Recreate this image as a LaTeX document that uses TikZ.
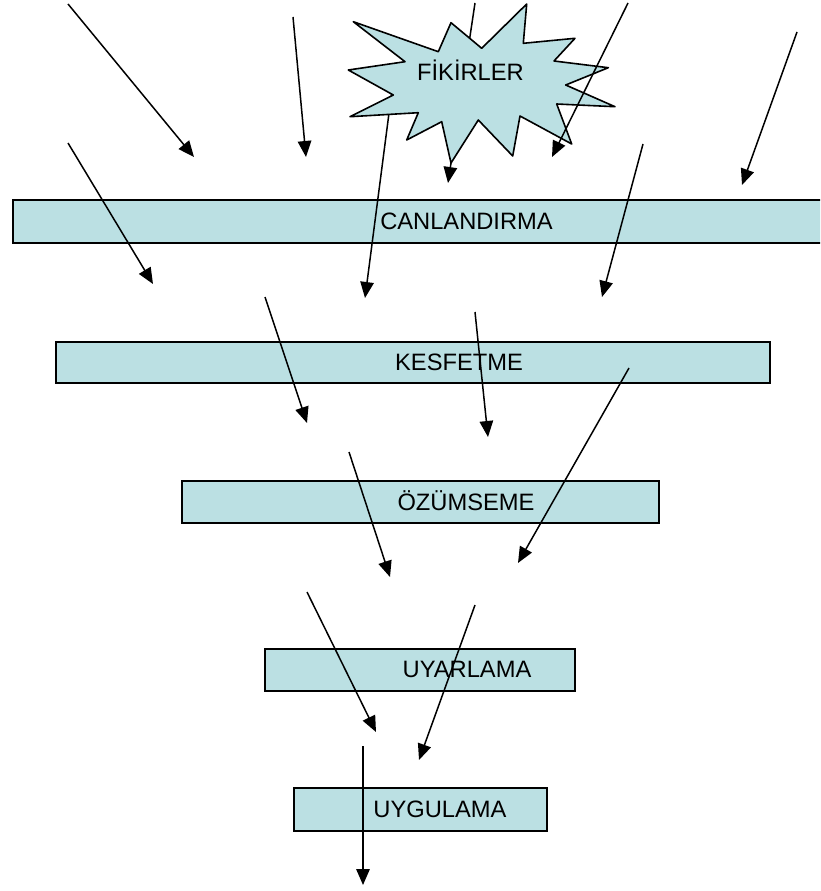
\documentclass[tikz,border=0pt]{standalone}
\usepackage{fontspec}
\setmainfont{Liberation Sans}
\usetikzlibrary{arrows.meta}
\definecolor{barfill}{RGB}{187,224,227}
\begin{document}
\begin{tikzpicture}[x=1pt,y=-1pt,
  bar/.style={draw=black,line width=1.8pt,fill=barfill,inner sep=0pt,anchor=north west},
  lbl/.style={font=\fontsize{23.7}{28}\selectfont,inner sep=0pt,anchor=center},
  flow/.style={line width=1.5pt,-{Triangle[length=16pt,width=13.5pt]}}]
\useasboundingbox (0,0) rectangle (820,891);
\clip (0,0) rectangle (820,891);

% stage bars
\node[bar,minimum width=830pt,minimum height=43pt] (canl) at (12,199) {};
\node[bar,minimum width=714pt,minimum height=41pt] (kesf) at (55,341) {};
\node[bar,minimum width=477pt,minimum height=42pt] (ozum) at (181,480) {};
\node[bar,minimum width=310pt,minimum height=42pt] (uyar) at (264,648) {};
\node[bar,minimum width=253pt,minimum height=43pt] (uygu) at (293,787) {};

% bar labels
\node[lbl] (tcanl) at (466.5,221) {CANLANDIRMA};
\node[lbl] (tkesf) at (459,362) {KESFETME};
\node[lbl] (tozum) at (466,501) {ÖZÜMSEME};
\node[lbl] (tuyar) at (467,669.5) {UYARLAMA};
\node[lbl] (tuygu) at (440,809) {UYGULAMA};

% arrow end points
\coordinate (s1) at (68,4);     \coordinate (e1) at (194,157);
\coordinate (s2) at (293,17);   \coordinate (e2) at (306,157);
\coordinate (s3) at (475,3);    \coordinate (e3) at (448,183);
\coordinate (s4) at (628,3);    \coordinate (e4) at (552,157);
\coordinate (s5) at (797,32);   \coordinate (e5) at (742,185);
\coordinate (s6) at (68,143);   \coordinate (e6) at (153,284);
\coordinate (s7) at (392,90);   \coordinate (e7) at (365,298);
\coordinate (s8) at (643,144);  \coordinate (e8) at (602,297);
\coordinate (s9) at (265,297);  \coordinate (e9) at (307,423);
\coordinate (s10) at (475,312); \coordinate (e10) at (488,437);
\coordinate (s11) at (629,368); \coordinate (e11) at (518,563);
\coordinate (s12) at (349,452); \coordinate (e12) at (390,577);
\coordinate (s13) at (307,592); \coordinate (e13) at (376,732);
\coordinate (s14) at (475,605); \coordinate (e14) at (419,760);
\coordinate (s15) at (363,746); \coordinate (e15) at (363,885);

% arrows lying under the burst
\draw[flow] (s3) -- (e3);
\draw[flow] (s7) -- (e7);

% the burst of ideas
\filldraw[fill=barfill,draw=black,line width=1.6pt,line join=round]
  (353.3,21.7) -- (438.3,51.7) -- (451,22.7) -- (481.7,48.3) -- (526.7,4)
  -- (523.3,43.3) -- (575,38.3) -- (554,61) -- (608.3,67.7) -- (565.7,85)
  -- (615,106.7) -- (556.7,104) -- (571.7,144) -- (520,116) -- (512.7,156)
  -- (478.3,120) -- (451,163) -- (441.7,121.7) -- (406.7,140) -- (418.3,112.7)
  -- (350,116.7) -- (393.3,95) -- (348.3,70) -- (405,61.7) -- cycle;
\node[lbl] (fikir) at (470.5,70.5) {FİKİRLER};

% remaining arrows
\draw[flow] (s1) -- (e1);
\draw[flow] (s2) -- (e2);
\draw[flow] (s4) -- (e4);
\draw[flow] (s5) -- (e5);
\draw[flow] (s6) -- (e6);
\draw[flow] (s8) -- (e8);
\draw[flow] (s9) -- (e9);
\draw[flow] (s10) -- (e10);
\draw[flow] (s11) -- (e11);
\draw[flow] (s12) -- (e12);
\draw[flow] (s13) -- (e13);
\draw[flow] (s14) -- (e14);
\draw[flow] (s15) -- (e15);
\end{tikzpicture}
\end{document}
